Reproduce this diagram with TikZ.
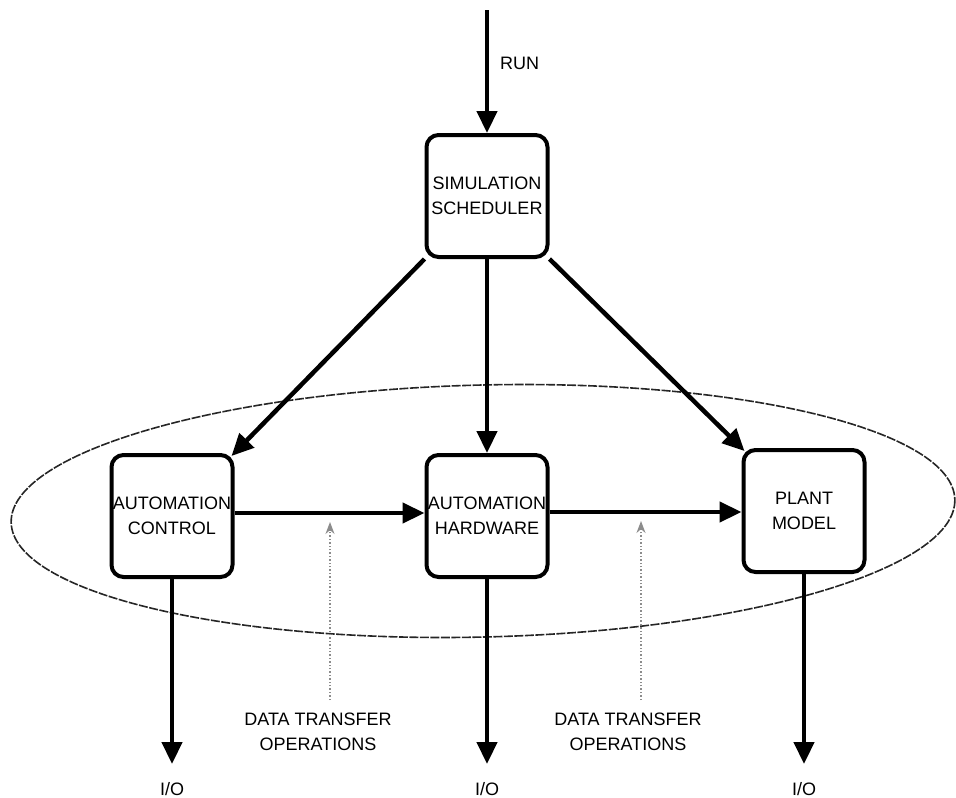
\documentclass[tikz,border=0pt]{standalone}
\usepackage{fontspec}
\setmainfont{Liberation Sans}
\usetikzlibrary{arrows.meta}
\tikzset{
  blk/.style={draw, line width=4pt, rounded corners=12pt, minimum width=121pt, minimum height=122pt, align=center, inner sep=0pt, font=\fontsize{18}{25}\selectfont},
  flow/.style={line width=4.5pt, -{Triangle[length=22pt,width=20pt]}},
  dtarrow/.style={line width=1.4pt, black!45, dotted, -{Stealth[length=12pt,width=9pt]}},
  lbl/.style={align=center, inner sep=0pt, font=\fontsize{18}{25}\selectfont},
  ring/.style={line width=1.6pt, black!85, dash pattern=on 9pt off 1.5pt},
}
\begin{document}
\begin{tikzpicture}[x=1pt,y=-1pt]
\useasboundingbox (0,0) rectangle (956,798);
% ellipse
\draw[ring, rotate around={1.4:(483,511)}] (483,511) ellipse [x radius=472, y radius=126];
% boxes
\node[blk] (ss) at (487,196) {SIMULATION\\SCHEDULER};
\node[blk] (ac) at (172,516) {AUTOMATION\\CONTROL};
\node[blk] (ah) at (487,516) {AUTOMATION\\HARDWARE};
\node[blk] (pm) at (804,511) {PLANT\\MODEL};
% run input
\coordinate (runstart) at (487,10);
\draw[flow] (runstart) -- (ss.north);
\node[lbl, anchor=west] (run) at (500,63) {RUN};
% scheduler to blocks
\draw[flow] (ss.south west) -- ([shift={(-3,3)}]ac.north east);
\draw[flow] (ss.south) -- (ah.north);
\draw[flow] (ss.south east) -- ([shift={(3,3)}]pm.north west);
% data flow
\draw[flow] (ac.east |- 0,513) -- (ah.west |- 0,513);
\draw[flow] (ah.east |- 0,512) -- (pm.west |- 0,512);
% outputs
\coordinate (o1) at (172,764);
\coordinate (o2) at (487,764);
\coordinate (o3) at (804,764);
\draw[flow] (ac.south) -- (o1);
\draw[flow] (ah.south) -- (o2);
\draw[flow] (pm.south) -- (o3);
\node[lbl] (io1) at (172,789) {I/O};
\node[lbl] (io2) at (487,789) {I/O};
\node[lbl] (io3) at (804,789) {I/O};
% data transfer operations
\coordinate (d1b) at (330,700);
\coordinate (d1t) at (330,522);
\coordinate (d2b) at (641,700);
\coordinate (d2t) at (641,521);
\draw[dtarrow] (d1b) -- (d1t);
\draw[dtarrow] (d2b) -- (d2t);
\node[lbl] (dto1) at (318,732) {DATA TRANSFER\\OPERATIONS};
\node[lbl] (dto2) at (628,732) {DATA TRANSFER\\OPERATIONS};
\end{tikzpicture}
\end{document}
